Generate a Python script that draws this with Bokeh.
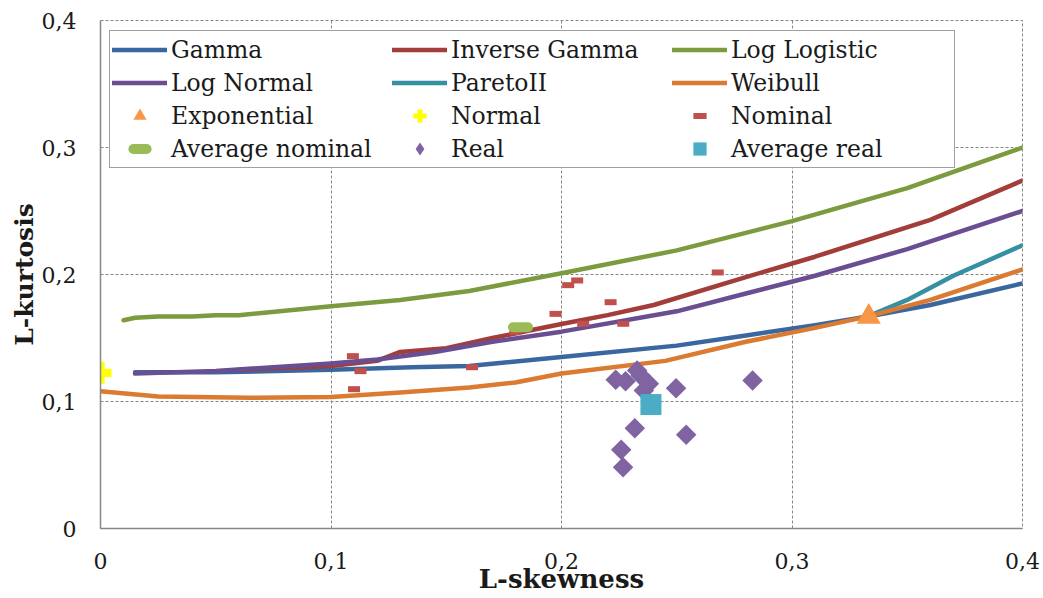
import math
from bokeh.plotting import figure
from bokeh.models import Legend, LegendItem, FixedTicker, Range1d
from bokeh.embed import file_html
from bokeh.resources import INLINE

# ---- data ----
gamma_x = [0.015, 0.05, 0.10, 0.135, 0.16, 0.20, 0.25, 0.28, 0.31, 0.333, 0.36, 0.40]
gamma_y = [0.123, 0.123, 0.125, 0.127, 0.128, 0.135, 0.144, 0.152, 0.160, 0.167, 0.176, 0.193]

invgamma_x = [0.06, 0.10, 0.12, 0.13, 0.15, 0.17, 0.20, 0.22, 0.24, 0.28, 0.31, 0.36, 0.40]
invgamma_y = [0.125, 0.128, 0.132, 0.139, 0.142, 0.150, 0.161, 0.168, 0.176, 0.198, 0.214, 0.243, 0.274]

loglogistic_x = [0.010, 0.015, 0.025, 0.040, 0.050, 0.060, 0.100, 0.130, 0.160, 0.200, 0.250, 0.300, 0.350, 0.400]
loglogistic_y = [0.164, 0.166, 0.167, 0.167, 0.168, 0.168, 0.175, 0.180, 0.187, 0.201, 0.219, 0.242, 0.268, 0.300]

lognormal_x = [0.015, 0.05, 0.10, 0.12, 0.145, 0.17, 0.20, 0.25, 0.28, 0.31, 0.35, 0.40]
lognormal_y = [0.122, 0.124, 0.130, 0.133, 0.139, 0.147, 0.155, 0.171, 0.185, 0.199, 0.220, 0.250]

pareto_x = [0.333, 0.35, 0.37, 0.40]
pareto_y = [0.167, 0.180, 0.199, 0.223]

weibull_x = [0.0, 0.025, 0.065, 0.10, 0.13, 0.16, 0.18, 0.20, 0.245, 0.28, 0.31, 0.333, 0.36, 0.40]
weibull_y = [0.108, 0.104, 0.103, 0.1035, 0.107, 0.111, 0.115, 0.122, 0.132, 0.147, 0.158, 0.167, 0.180, 0.204]

exponential_x = [0.3333]
exponential_y = [0.1667]

normal_x = [0.0]
normal_y = [0.1226]

nominal_x = [0.1095, 0.1128, 0.1100, 0.1612, 0.1800, 0.1974, 0.2029, 0.2068, 0.2094, 0.2213, 0.2268, 0.2678]
nominal_y = [0.1357, 0.1239, 0.1097, 0.1270, 0.1546, 0.1690, 0.1916, 0.1953, 0.1612, 0.1782, 0.1612, 0.2016]

avg_nominal_x = [0.1822]
avg_nominal_y = [0.1585]

real_x = [0.2235, 0.2278, 0.2328, 0.2343, 0.2379, 0.2357, 0.2497, 0.2318, 0.2541, 0.2259, 0.2267, 0.2829]
real_y = [0.1171, 0.1160, 0.1244, 0.1205, 0.1139, 0.1087, 0.1105, 0.0790, 0.0738, 0.0620, 0.0483, 0.1165]

avg_real_x = [0.2388]
avg_real_y = [0.0976]

x_ticks = [0.0, 0.1, 0.2, 0.3, 0.4]
x_tick_labels = ["0", "0,1", "0,2", "0,3", "0,4"]
y_ticks = [0.0, 0.1, 0.2, 0.3, 0.4]
y_tick_labels = ["0", "0,1", "0,2", "0,3", "0,4"]

FONT = "DejaVu Serif"

p = figure(width=1041, height=596, output_backend="svg", toolbar_location=None,
           x_range=Range1d(0, 0.4), y_range=Range1d(0, 0.4),
           min_border_left=100, min_border_right=19, min_border_top=20, min_border_bottom=68)
p.background_fill_color = "white"
p.border_fill_color = "white"
p.outline_line_color = "#868686"
p.outline_line_dash = "3 2"
p.outline_line_width = 1

for g in (p.xgrid, p.ygrid):
    g.grid_line_color = "#868686"
    g.grid_line_dash = "3 2"
    g.grid_line_width = 1

p.xaxis.ticker = FixedTicker(ticks=x_ticks)
p.yaxis.ticker = FixedTicker(ticks=y_ticks)
p.xgrid.ticker = FixedTicker(ticks=x_ticks)
p.ygrid.ticker = FixedTicker(ticks=y_ticks)
p.xaxis.major_label_overrides = dict(zip(x_ticks, x_tick_labels))
p.yaxis.major_label_overrides = dict(zip(y_ticks, y_tick_labels))

for ax in (p.xaxis, p.yaxis):
    ax.axis_line_color = "#868686"
    ax.axis_line_width = 1.5
    ax.major_tick_in = 0
    ax.major_tick_out = 0
    ax.minor_tick_in = 0
    ax.minor_tick_out = 0
    ax.major_label_text_font = FONT
    ax.major_label_text_font_size = "22px"
    ax.major_label_text_color = "#1a1a1a"
    ax.axis_label_text_font = FONT
    ax.axis_label_text_font_style = "bold"
    ax.axis_label_text_color = "#1a1a1a"

p.yaxis.major_label_standoff = 24
p.yaxis.axis_label = "L-kurtosis"
p.yaxis.axis_label_text_font_size = "25px"
p.yaxis.axis_label_standoff = 0

p.xaxis.major_label_standoff = 24
p.xaxis.axis_label = "L-skewness"
p.xaxis.axis_label_text_font_size = "26px"
p.xaxis.axis_label_standoff = -8

LW = 4.5
r_gamma = p.line(gamma_x, gamma_y, line_color="#3B67A0", line_width=LW, line_join="round", line_cap="round")
r_invg = p.line(invgamma_x, invgamma_y, line_color="#A33D3A", line_width=LW, line_join="round", line_cap="round")
r_ll = p.line(loglogistic_x, loglogistic_y, line_color="#7C9B3E", line_width=LW, line_join="round", line_cap="round")
r_ln = p.line(lognormal_x, lognormal_y, line_color="#6A4E92", line_width=LW, line_join="round", line_cap="round")
r_par = p.line(pareto_x, pareto_y, line_color="#3590A2", line_width=LW, line_join="round", line_cap="round")
r_wei = p.line(weibull_x, weibull_y, line_color="#DA7B31", line_width=LW, line_join="round", line_cap="round")

r_exp = p.scatter(exponential_x, exponential_y, marker="triangle", size=24,
                  fill_color="#F79646", line_color=None)
r_norm = p.scatter(normal_x, normal_y, marker="plus", size=22,
                   fill_color="#FFFF00", line_color=None)
r_nom = p.scatter(nominal_x, nominal_y, marker="dash", size=12,
                  line_color="#C0504D", line_width=6)
r_avgnom = p.scatter(avg_nominal_x, avg_nominal_y, marker="dash", size=15,
                     line_color="#9BBB59", line_width=10, line_cap="round")
r_real = p.scatter(real_x, real_y, marker="square", size=14.5, angle=math.pi / 4,
                   fill_color="#8064A2", line_color=None)
r_avgreal = p.scatter(avg_real_x, avg_real_y, marker="square", size=21,
                      fill_color="#4BACC6", line_color=None)
# legend-only key (not drawn on the plot) showing the diamond symbol of the "Real" series
r_real_key = p.scatter(x=[float("nan")], y=[float("nan")], marker="diamond",
                       fill_color="#8064A2", line_color=None)

items = [
    LegendItem(label="Gamma", renderers=[r_gamma]),
    LegendItem(label="Inverse Gamma", renderers=[r_invg]),
    LegendItem(label="Log Logistic", renderers=[r_ll]),
    LegendItem(label="Log Normal", renderers=[r_ln]),
    LegendItem(label="ParetoII", renderers=[r_par]),
    LegendItem(label="Weibull", renderers=[r_wei]),
    LegendItem(label="Exponential", renderers=[r_exp]),
    LegendItem(label="Normal", renderers=[r_norm]),
    LegendItem(label="Nominal", renderers=[r_nom]),
    LegendItem(label="Average nominal", renderers=[r_avgnom]),
    LegendItem(label="Real", renderers=[r_real_key]),
    LegendItem(label="Average real", renderers=[r_avgreal]),
]
legend = Legend(items=items, orientation="horizontal", ncols=3,
                location=(9, 360),
                glyph_width=55, glyph_height=33, label_height=33, label_width=221,
                label_standoff=4, spacing=0, padding=2, margin=0,
                label_text_font=FONT, label_text_font_size="23.5px", label_text_color="#1a1a1a",
                border_line_color="#404040", border_line_width=1.5,
                background_fill_color="white", background_fill_alpha=1.0)
p.add_layout(legend, "center")

open("out.html", "w").write(file_html(p, INLINE))
